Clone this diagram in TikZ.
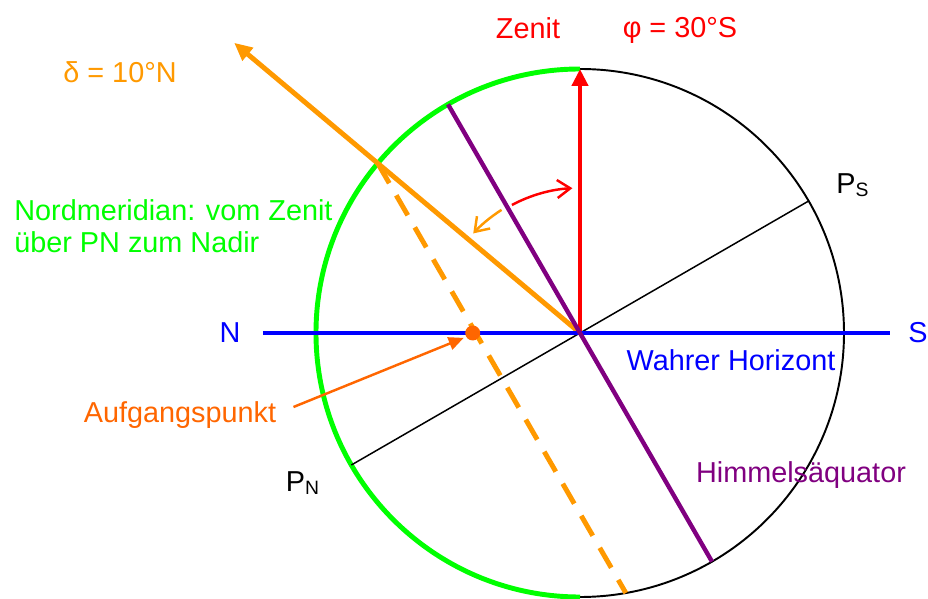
\documentclass[tikz,border=0pt]{standalone}
\usepackage{fontspec}
\setmainfont{Liberation Sans}
\usetikzlibrary{arrows.meta,calc}
\definecolor{hzblue}{RGB}{0,0,255}
\definecolor{zred}{RGB}{255,0,0}
\definecolor{sunorange}{RGB}{255,153,0}
\definecolor{riseorange}{RGB}{255,102,0}
\definecolor{merigreen}{RGB}{0,255,0}
\definecolor{eqpurple}{RGB}{128,0,128}
\tikzset{
  lbl/.style={font=\fontsize{16.4}{18.2}\selectfont, inner sep=0pt},
  hzline/.style={hzblue, line width=2.8pt},
  eqline/.style={eqpurple, line width=2.5pt},
  axline/.style={black, line width=0.85pt},
  merarc/.style={merigreen, line width=2.8pt},
  skyarc/.style={black, line width=1.1pt},
  zenarr/.style={-{Triangle[length=3.4mm,width=3.2mm]}, zred, line width=2.8pt},
  sunarr/.style={-{Triangle[length=3.6mm,width=3.2mm]}, sunorange, line width=2.8pt},
  sunpath/.style={sunorange, line width=2.8pt, dash pattern=on 4.6mm off 2.8mm},
  risearr/.style={-{Triangle[length=3mm,width=2.6mm]}, riseorange, line width=1.4pt},
  angarr/.style={-{Straight Barb[length=2.6mm,width=3.6mm]}, line width=1.4pt},
}
\newcommand{\subl}[1]{{\fontsize{11}{11}\selectfont\raisebox{-0.35ex}{#1}}}
\begin{document}
\begin{tikzpicture}
  \def\R{5.28}
  \useasboundingbox (-11.6,-5.32) rectangle (6.96,6.66);
  \coordinate (O) at (0,0);
  \coordinate (Z) at (90:\R); \coordinate (PS) at (30:\R); \coordinate (PN) at (210:\R);
  \coordinate (Q1) at (120:\R); \coordinate (Q2) at (300:\R);
  \coordinate (D1) at (140:\R); \coordinate (D2) at (280:\R);
  \coordinate (W) at (-6.34,0); \coordinate (E) at (6.2,0);
  \coordinate (sun) at (140:9.03);
  \coordinate (rise) at (intersection of D1--D2 and W--E);
  \draw[skyarc] (Z) arc (90:-90:\R);
  \draw[merarc] (Z) arc (90:270:\R);
  \draw[axline] (PN) -- (PS);
  \draw[sunpath] (D1) -- (D2);
  \draw[sunarr] (O) -- (sun);
  \draw[zenarr] (O) -- (Z);
  \draw[hzline] (W) -- (E);
  \draw[eqline] (Q1) -- (Q2);
  \fill[riseorange] ($(rise)+(-0.06,0)$) circle (0.15);
  \draw[angarr, zred] (118:2.9) arc (118:93:2.9);
  \draw[angarr, sunorange] (122.5:2.92) arc (122.5:137:2.92);
  \node[lbl, text=sunorange] (lblDelta) at (-9.2,5.22) {δ = 10°N};
  \node[lbl, text=zred] (lblZenit) at (-1.04,6.1) {Zenit};
  \node[lbl, text=zred] (lblPhi) at (2.0,6.06) {φ = 30°S};
  \node[lbl] (lblPS) at (5.45,2.96) {P\subl{S}};
  \node[lbl] (lblPN) at (-5.55,-3.0) {P\subl{N}};
  \node[lbl, text=merigreen, anchor=west, align=left] (lblMeridian) at (-11.32,2.14)
    {Nordmeridian: vom Zenit\\über PN zum Nadir};
  \node[lbl, text=hzblue] (lblN) at (-7.0,0) {N};
  \node[lbl, text=hzblue] (lblS) at (6.76,0) {S};
  \node[lbl, text=hzblue] (lblHorizon) at (3.02,-0.54) {Wahrer Horizont};
  \node[lbl, text=eqpurple] (lblEquator) at (4.42,-2.84) {Himmelsäquator};
  \node[lbl, text=riseorange] (lblRise) at (-8.0,-1.64) {Aufgangspunkt};
  \draw[risearr, shorten >=2.6mm] ($(lblRise.east)+(0.34,0.16)$) -- (rise);
\end{tikzpicture}
\end{document}
